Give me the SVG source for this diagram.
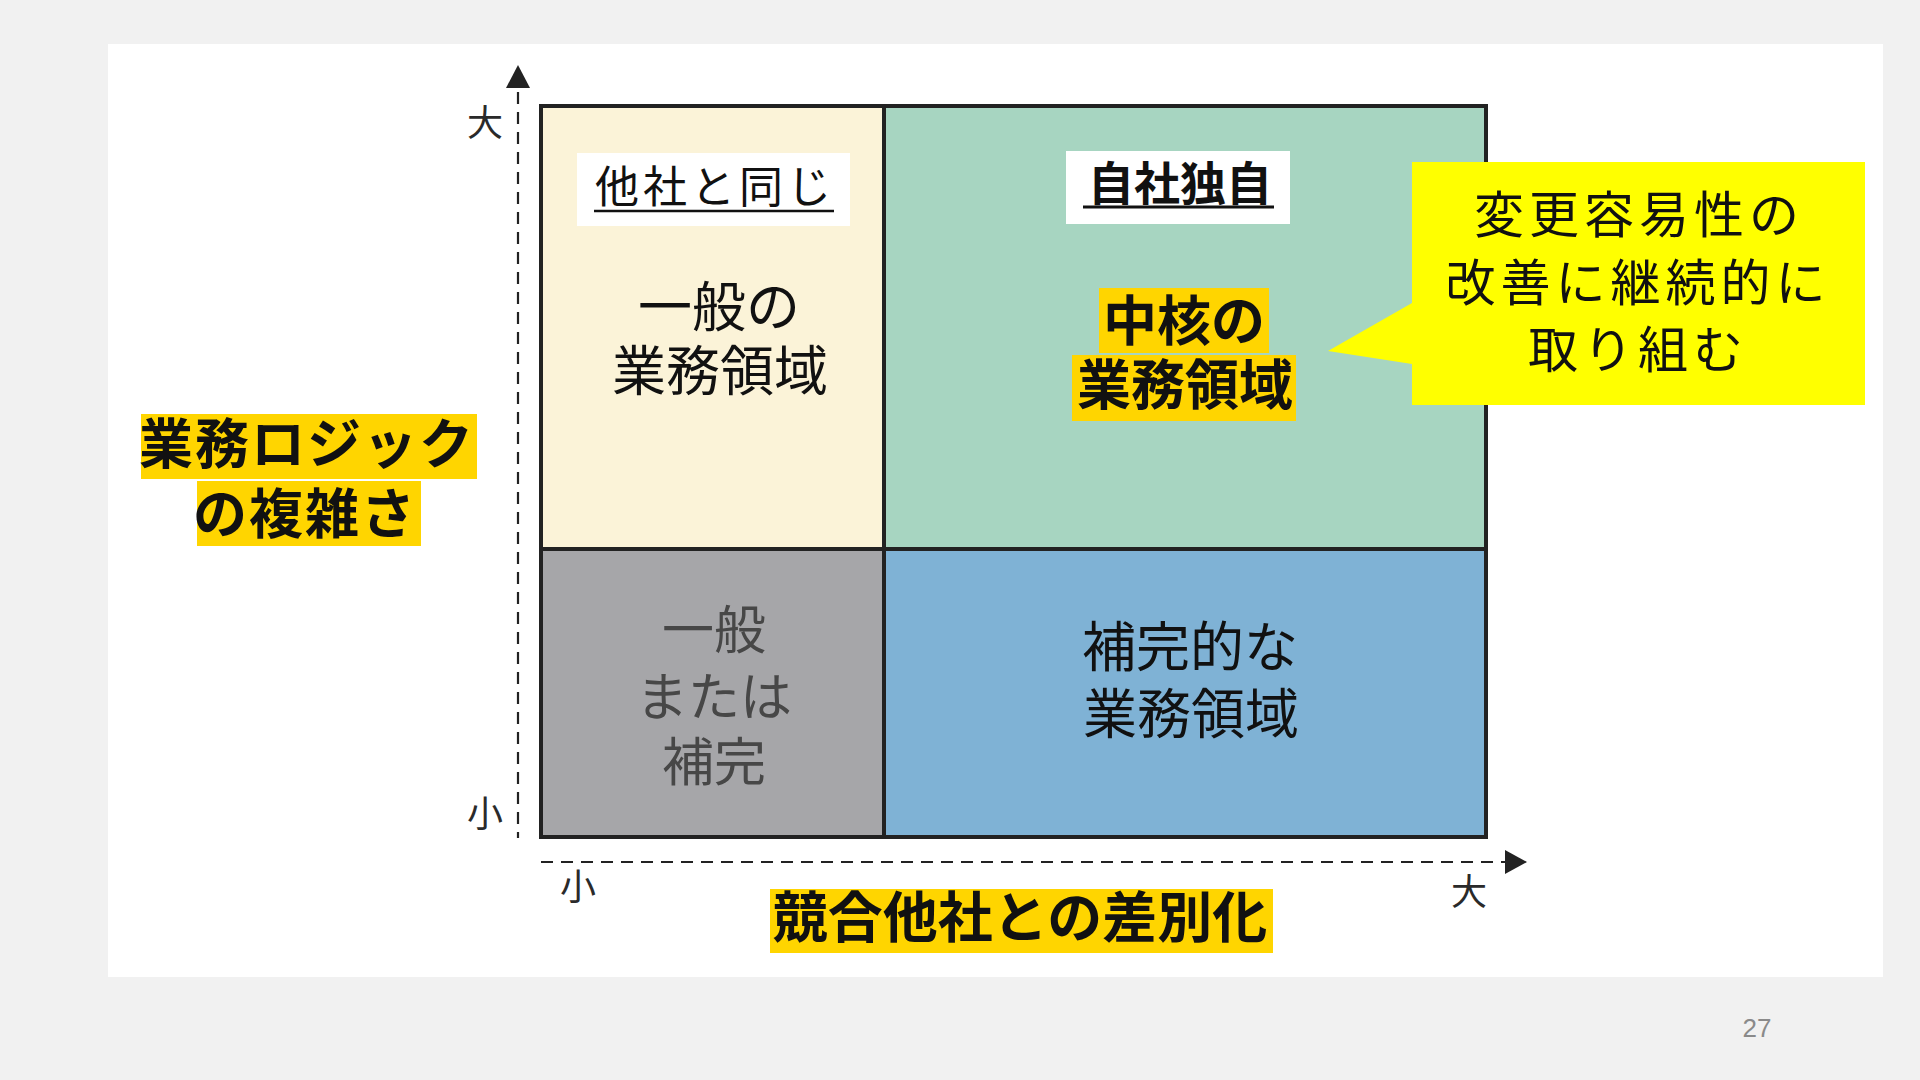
<svg xmlns="http://www.w3.org/2000/svg" width="1920" height="1080" viewBox="0 0 1920 1080">
  <defs>
    <style>
      .jp { font-family: "Noto Sans CJK JP", "Noto Sans CJK SC", sans-serif; }
      .c { text-anchor: middle; dominant-baseline: central; }
      .b { font-weight: 700; }
      .cell { stroke: #222; stroke-width: 4; }
      .axis { stroke: #222; stroke-width: 2.2; stroke-dasharray: 12 8; fill: none; }
      .tick { font-size: 36px; fill: #2a2a2a; }
      .hl { fill: #ffd500; }
      .big { font-size: 54px; fill: #111; }
    </style>
  </defs>

  <rect x="0" y="0" width="1920" height="1080" fill="#f1f1f1"/>
  <rect x="108" y="44" width="1775" height="933" fill="#ffffff"/>

  <g id="connectors">
    <line class="axis" x1="518" y1="92" x2="518" y2="838"/>
    <polygon points="518,65 506,88 530,88" fill="#222"/>
    <line class="axis" x1="541" y1="862" x2="1506" y2="862"/>
    <polygon points="1527,862 1505,850 1505,874" fill="#222"/>
  </g>

  <g id="cell-general">
    <rect class="cell" x="541" y="106" width="343" height="443" fill="#fbf3d8"/>
    <rect x="577" y="153" width="273" height="73" fill="#ffffff"/>
    <text class="jp c" x="715" y="184" font-size="44" letter-spacing="4" fill="#111">他社と同じ</text>
    <line x1="594" y1="211" x2="834" y2="211" stroke="#111" stroke-width="2.5"/>
    <text class="jp c big" x="719" y="303">一般の</text>
    <text class="jp c big" x="720" y="367">業務領域</text>
  </g>

  <g id="cell-core">
    <rect class="cell" x="884" y="106" width="602" height="443" fill="#a7d5c1"/>
    <rect x="1066" y="151" width="224" height="73" fill="#ffffff"/>
    <text class="jp c b" x="1180" y="180" font-size="46" fill="#111">自社独自</text>
    <line x1="1083" y1="207" x2="1274" y2="207" stroke="#111" stroke-width="3"/>
    <rect class="hl" x="1099" y="288" width="170" height="65"/>
    <rect class="hl" x="1072" y="355" width="224" height="66"/>
    <text class="jp c b big" x="1184" y="317">中核の</text>
    <text class="jp c b big" x="1185" y="381">業務領域</text>
  </g>

  <g id="cell-generic-or-supporting">
    <rect class="cell" x="541" y="549" width="343" height="288" fill="#a6a6a9"/>
    <text class="jp c" x="714" y="626" font-size="52" fill="#474747">一般</text>
    <text class="jp c" x="714" y="693" font-size="52" fill="#474747">または</text>
    <text class="jp c" x="714" y="758" font-size="52" fill="#474747">補完</text>
  </g>

  <g id="cell-supporting">
    <rect class="cell" x="884" y="549" width="602" height="288" fill="#7fb2d5"/>
    <text class="jp c big" x="1190" y="643">補完的な</text>
    <text class="jp c big" x="1191" y="710">業務領域</text>
  </g>

  <g id="callout">
    <polygon points="1412,162 1865,162 1865,405 1412,405 1412,364 1328,351 1412,303" fill="#ffff00"/>
    <text class="jp c" x="1639" y="211" font-size="50" letter-spacing="5" fill="#111">変更容易性の</text>
    <text class="jp c" x="1638" y="279" font-size="50" letter-spacing="5" fill="#111">改善に継続的に</text>
    <text class="jp c" x="1638" y="346" font-size="50" letter-spacing="5" fill="#111">取り組む</text>
  </g>

  <g id="y-label">
    <rect class="hl" x="141" y="414" width="336" height="65"/>
    <rect class="hl" x="197" y="481" width="224" height="65"/>
    <text class="jp c b" x="307" y="440" font-size="54" letter-spacing="2" fill="#111">業務ロジック</text>
    <text class="jp c b" x="305" y="510" font-size="54" letter-spacing="2" fill="#111">の複雑さ</text>
  </g>

  <g id="x-label">
    <rect class="hl" x="770" y="889" width="503" height="64"/>
    <text class="jp c b" x="1020" y="913" font-size="55" fill="#111">競合他社との差別化</text>
  </g>

  <g id="ticks">
    <text class="jp c tick" x="485" y="120">大</text>
    <text class="jp c tick" x="485" y="811">小</text>
    <text class="jp c tick" x="578" y="884">小</text>
    <text class="jp c tick" x="1469" y="889">大</text>
  </g>

  <text x="1757" y="1028" font-family="Liberation Sans, Arial, sans-serif" font-size="26" fill="#8a8a8a" text-anchor="middle" dominant-baseline="central">27</text>
</svg>
